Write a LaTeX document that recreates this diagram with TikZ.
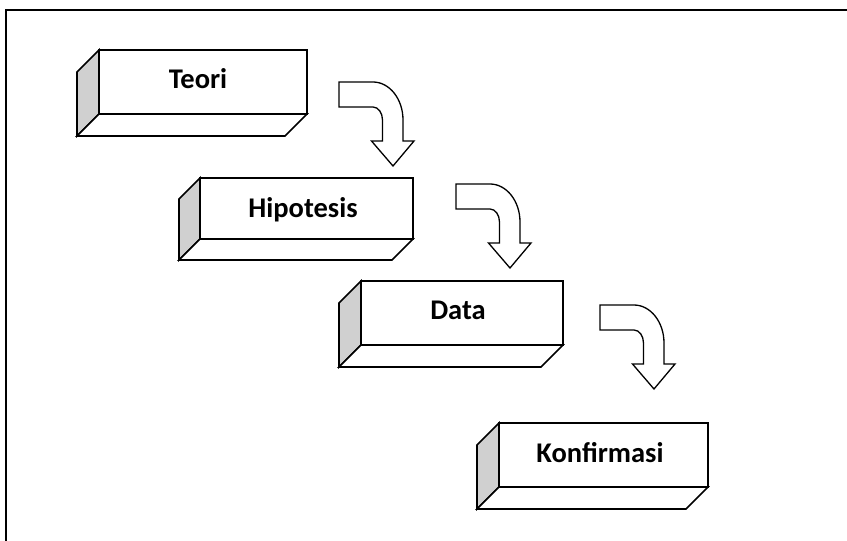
\documentclass[tikz,border=0pt]{standalone}
\usepackage{fontspec}
\setmainfont{Carlito}
\definecolor{sidegray}{RGB}{208,208,208}
\tikzset{
  boxline/.style={draw=black, line width=1.6pt, line join=miter},
  sideface/.style={boxline, fill=sidegray},
  bottomface/.style={boxline, fill=white},
  frontface/.style={boxline, fill=white},
  boxtext/.style={font=\bfseries\fontsize{28.5}{34}\selectfont, inner sep=0pt, anchor=base},
  bentarrow/.style={draw=black, line width=1.3pt, fill=white, line join=miter},
  framerule/.style={draw=black, line width=1.6pt},
}
% #1 x1, #2 y1, #3 x2, #4 y2, #5 depth
\newcommand\drawbox[5]{%
  \draw[sideface] (#1,#2) -- (#1-#5,#2+#5) -- (#1-#5,#4+#5) -- (#1,#4) -- cycle;
  \draw[bottomface] (#1,#4) -- (#3,#4) -- (#3-#5,#4+#5) -- (#1-#5,#4+#5) -- cycle;
  \draw[frontface] (#1,#2) rectangle (#3,#4);
}
\newcommand\drawbent[2]{%
  \draw[bentarrow, shift={(#1,#2)}] (0,0) -- (34,0)
    .. controls (50.5,0) and (64,17) .. (64,38) -- (64,59) -- (75,59)
    -- (54,84) -- (32.5,59) -- (43.5,59) -- (43.5,38)
    .. controls (43.5,30.8) and (39.2,25) .. (34,25) -- (0,25) -- cycle;
}
\begin{document}
\begin{tikzpicture}[x=1pt, y=-1pt]
  \path[use as bounding box] (0,0) rectangle (847,541);
  \clip (0,0) rectangle (847,541);
  \path[framerule] (6,560) -- (6,10) -- (870,10);

  \drawbox{99}{50}{307}{114}{22}
  \node[boxtext] (teori) at (198,88) {Teori};

  \drawbox{200}{178}{413}{239}{21}
  \node[boxtext] (hipotesis) at (303,217) {Hipotesis};

  \drawbox{361}{281}{563}{345}{22}
  \node[boxtext] (data) at (458,319) {Data};

  \drawbox{499}{423}{708}{487}{22}
  \node[boxtext] (konfirmasi) at (600,462) {Konfirmasi};

  \drawbent{339}{82}
  \drawbent{456}{184}
  \drawbent{600}{305}
\end{tikzpicture}
\end{document}
